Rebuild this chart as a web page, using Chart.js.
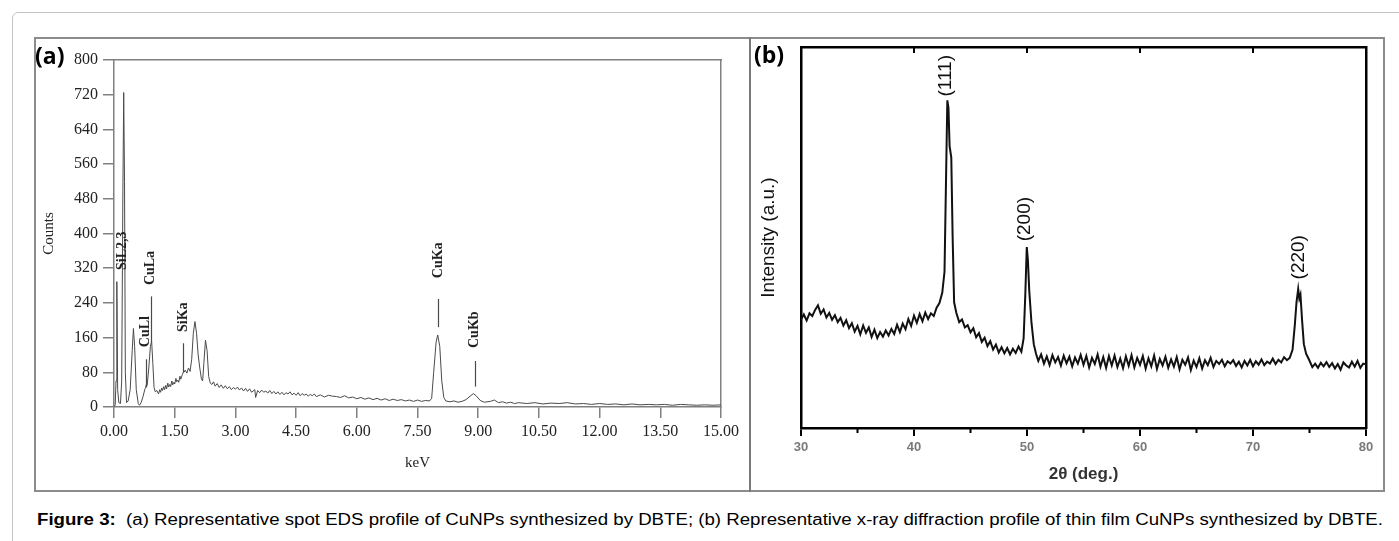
<!DOCTYPE html>
<html>
<head>
<meta charset="utf-8">
<script src="https://cdn.jsdelivr.net/npm/chart.js@4.4.1/dist/chart.umd.min.js"></script>
<style>
html,body{margin:0;padding:0;background:#fff;width:1399px;height:541px;overflow:hidden;position:relative}
#outer{position:absolute;left:12px;top:12px;width:1420px;height:560px;border:1px solid #c4c4c4;border-top-left-radius:6px;box-sizing:border-box}
#frame{position:absolute;left:34px;top:37px;width:1351px;height:455px;border:2px solid #8c8c8c;box-sizing:border-box}
#divider{position:absolute;left:749px;top:37px;width:2px;height:455px;background:#7a7a7a}
#cA{position:absolute;left:34px;top:37px}
#cB{position:absolute;left:751px;top:37px}
.plabel{position:absolute;font-family:'Open Sans';font-weight:700;font-size:23px;color:#000;line-height:1}
#caption{position:absolute;left:37px;top:511px;font-family:'Liberation Sans';font-size:16px;white-space:nowrap;transform-origin:0 0;color:#000;line-height:18px}
</style>
</head>
<body>
<div id="outer"></div>
<div id="frame"></div>
<div id="divider"></div>
<canvas id="cA" width="716" height="454"></canvas>
<canvas id="cB" width="633" height="454"></canvas>
<div class="plabel" style="left:35px;top:44px">(a)</div>
<div class="plabel" style="left:754px;top:43px">(b)</div>
<div id="caption"><b>Figure 3:</b>&nbsp; (a) Representative spot EDS profile of CuNPs synthesized by DBTE; (b) Representative x-ray diffraction profile of thin film CuNPs synthesized by DBTE.</div>
<script>
// ---------- Panel (a): EDS spectrum ----------
const edsKeV = [0.00,0.03,0.05,0.07,0.09,0.12,0.16,0.19,0.22,0.24,0.26,0.28,0.31,0.35,0.40,0.45,0.48,0.51,0.55,0.60,0.63,0.67,0.72,0.76,0.78,0.80,0.82,0.86,0.90,0.93,0.96,0.99,1.02,1.06,1.10,1.13,1.15,1.18,1.20,1.23,1.25,1.28,1.30,1.33,1.35,1.38,1.40,1.43,1.45,1.48,1.50,1.53,1.55,1.58,1.60,1.63,1.65,1.69,1.71,1.73,1.76,1.80,1.84,1.88,1.92,1.96,2.00,2.04,2.08,2.12,2.16,2.19,2.22,2.26,2.30,2.34,2.38,2.42,2.46,2.50,2.55,2.60,2.65,2.70,2.75,2.80,2.85,2.90,2.95,3.00,3.05,3.10,3.15,3.20,3.25,3.30,3.35,3.40,3.48,3.50,3.55,3.60,3.65,3.70,3.75,3.80,3.85,3.90,3.95,4.00,4.05,4.10,4.15,4.20,4.25,4.30,4.35,4.40,4.45,4.50,4.55,4.60,4.65,4.70,4.75,4.80,4.85,4.90,4.95,5.00,5.10,5.20,5.30,5.40,5.50,5.60,5.70,5.80,5.90,6.00,6.10,6.20,6.30,6.40,6.50,6.60,6.70,6.80,6.90,7.00,7.10,7.20,7.30,7.40,7.50,7.60,7.70,7.80,7.85,7.90,7.96,8.00,8.05,8.10,8.15,8.20,8.30,8.40,8.50,8.60,8.70,8.80,8.88,8.95,9.05,9.15,9.30,9.40,9.50,9.60,9.70,9.80,9.90,10.00,10.20,10.40,10.60,10.80,11.00,11.20,11.40,11.60,11.80,12.00,12.20,12.40,12.60,12.80,13.00,13.20,13.40,13.60,13.80,14.00,14.20,14.40,14.60,14.80,15.00];
const edsCounts = [0,5,60,289,40,10,8,60,500,725,520,80,10,14,40,130,181,140,40,8,4,10,25,40,45,52,50,90,140,152,100,45,35,38,30,40,34,44,38,47,40,50,42,55,46,52,47,60,51,57,53,66,58,62,57,71,64,75,80,80,85,78,90,82,110,170,197,170,120,90,65,60,100,154,130,70,55,52,58,48,54,45,51,43,49,42,47,40,45,41,46,39,44,37,43,36,42,34,40,22,38,33,39,34,37,32,38,31,36,30,35,29,34,28,33,30,35,28,32,27,33,26,31,27,30,25,29,26,30,24,28,23,27,25,24,22,26,21,23,19,22,18,21,17,20,16,19,15,18,15,17,14,16,13,16,13,15,14,20,80,150,166,140,60,22,14,12,14,11,13,17,25,31,26,15,11,13,16,10,12,9,11,8,10,8,10,7,9,8,10,7,8,6,8,6,7,5,7,5,6,5,6,4,6,5,4,5,4,5];
const edsTickKeV = [0,1.5,3,4.5,6,7.5,9,10.5,12,13.5,15];
const edsTickCounts = [0,80,160,240,320,400,480,560,640,720,800];
const edsPeakNames = ['SiL2,3','CuLl','CuLa','SiKa','CuKa','CuKb'];
const edsPeakKeV = [0.21,0.78,0.91,1.71,8.02,8.91];
const edsLabelBase = [316,138,281,173,297,136];
const edsMarkerKeV = [0.78,0.92,1.71,8.00,8.91];
const edsMarkerLow = [45,150,80,184,47];
const edsMarkerHigh = [110,255,147,249,106];

// ---------- Panel (b): XRD pattern ----------
const xrdTheta = [30.00,30.25,30.50,30.75,31.00,31.25,31.50,31.75,32.00,32.25,32.50,32.75,33.00,33.25,33.50,33.75,34.00,34.25,34.50,34.75,35.00,35.25,35.50,35.75,36.00,36.25,36.50,36.75,37.00,37.25,37.50,37.75,38.00,38.25,38.50,38.75,39.00,39.25,39.50,39.75,40.00,40.25,40.50,40.75,41.00,41.25,41.50,41.75,42.00,42.25,42.50,42.70,42.85,42.95,43.05,43.15,43.30,43.42,43.55,43.75,44.00,44.25,44.50,44.75,45.00,45.25,45.50,45.75,46.00,46.25,46.50,46.75,47.00,47.25,47.50,47.75,48.00,48.25,48.50,48.75,49.00,49.25,49.50,49.70,49.85,49.98,50.08,50.20,50.40,50.60,50.80,51.00,51.25,51.50,51.75,52.00,52.25,52.50,52.75,53.00,53.25,53.50,53.75,54.00,54.25,54.50,54.75,55.00,55.25,55.50,55.75,56.00,56.25,56.50,56.75,57.00,57.25,57.50,57.75,58.00,58.25,58.50,58.75,59.00,59.25,59.50,59.75,60.00,60.25,60.50,60.75,61.00,61.25,61.50,61.75,62.00,62.25,62.50,62.75,63.00,63.25,63.50,63.75,64.00,64.25,64.50,64.75,65.00,65.25,65.50,65.75,66.00,66.25,66.50,66.75,67.00,67.25,67.50,67.75,68.00,68.25,68.50,68.75,69.00,69.25,69.50,69.75,70.00,70.25,70.50,70.75,71.00,71.25,71.50,71.75,72.00,72.25,72.50,72.75,73.00,73.25,73.50,73.70,73.85,74.00,74.10,74.20,74.35,74.50,74.70,74.90,75.10,75.25,75.50,75.75,76.00,76.25,76.50,76.75,77.00,77.25,77.50,77.75,78.00,78.25,78.50,78.75,79.00,79.25,79.50,79.75,80.00];
const xrdIntensity = [28.5,29.8,28.2,30.1,29.4,31.0,32.2,30.0,31.1,29.0,30.2,28.4,29.6,27.8,28.9,26.9,28.3,26.2,27.5,25.3,26.8,24.6,26.9,25.0,26.4,23.9,25.8,23.6,25.2,24.0,25.6,24.3,26.0,24.7,27.1,25.2,27.4,25.9,28.6,26.8,29.5,27.6,29.9,28.0,30.3,28.6,30.1,29.4,31.6,32.8,35.5,41.0,68.0,86.0,84.0,74.0,71.0,50.0,33.0,30.2,27.8,28.5,26.4,27.0,25.1,26.2,23.8,24.9,22.6,23.7,21.5,22.8,20.6,21.9,19.8,21.2,19.6,21.0,19.3,20.8,19.7,21.4,20.0,23.5,35.0,47.5,44.0,36.0,27.5,22.0,19.5,17.6,19.3,16.9,18.8,16.5,19.1,17.2,18.6,16.4,19.0,17.0,18.7,16.2,18.5,16.9,19.2,16.6,18.9,15.9,18.4,16.8,19.3,16.1,18.6,15.8,18.9,16.4,19.0,16.0,18.2,15.7,18.8,16.3,19.1,15.9,18.4,16.6,18.9,15.6,18.3,16.2,19.0,15.5,18.1,16.4,18.7,15.8,18.0,16.1,18.6,15.4,17.9,16.6,18.5,15.2,17.7,16.0,18.3,15.6,17.8,16.5,18.4,16.0,17.6,16.8,17.9,16.2,17.5,16.9,17.8,16.3,17.4,15.9,17.6,16.4,17.9,16.2,17.5,16.6,18.0,16.5,17.4,16.9,18.2,16.8,17.9,17.2,18.6,17.8,18.4,20.5,27.0,33.0,36.5,34.0,35.0,28.0,22.0,19.5,18.3,17.0,16.0,16.9,15.8,17.1,16.2,17.3,16.0,17.0,15.6,16.8,15.3,17.2,16.4,15.9,17.4,16.1,17.6,15.8,16.9,16.7];
const xrdTicks = [30,40,50,60,70,80];
const xrdPeakNames = ['(111)','(200)','(220)'];
const xrdPeakTheta = [42.8,49.8,74.05];
const xrdLabelBase = [87,49,39];

// ---------- plugins ----------
const edsLabels = {
  id: 'edsLabels',
  afterDatasetsDraw(chart) {
    const {ctx, scales: {x, y}} = chart;
    ctx.save();
    ctx.strokeStyle = '#4a4a4a';
    ctx.lineWidth = 1.2;
    edsMarkerKeV.forEach((k, i) => {
      const px = Math.round(x.getPixelForValue(k)) + 0.5;
      ctx.beginPath();
      ctx.moveTo(px, y.getPixelForValue(edsMarkerLow[i]));
      ctx.lineTo(px, y.getPixelForValue(edsMarkerHigh[i]));
      ctx.stroke();
    });
    ctx.fillStyle = '#222';
    ctx.font = 'bold 14px "Liberation Serif"';
    ctx.textAlign = 'left';
    ctx.textBaseline = 'middle';
    edsPeakNames.forEach((n, i) => {
      ctx.save();
      ctx.translate(x.getPixelForValue(edsPeakKeV[i]), y.getPixelForValue(edsLabelBase[i]));
      ctx.rotate(-Math.PI / 2);
      ctx.fillText(n, 0, 0);
      ctx.restore();
    });
    ctx.restore();
  }
};

const xrdDecor = {
  id: 'xrdDecor',
  afterDraw(chart) {
    const {ctx, chartArea: a, scales: {x, y}} = chart;
    ctx.save();
    ctx.strokeStyle = '#000';
    ctx.lineWidth = 2;
    const t = x.ticks.map(k => k.value);
    const seg = (x1, y1, x2, y2) => { ctx.beginPath(); ctx.moveTo(x1, y1); ctx.lineTo(x2, y2); ctx.stroke(); };
    t.forEach(v => {
      if (v <= x.min || v >= x.max) return;
      const px = x.getPixelForValue(v);
      seg(px, a.top, px, a.top + 6);
    });
    for (let i = 0; i < t.length - 1; i++) {
      const px = x.getPixelForValue((t[i] + t[i + 1]) / 2);
      seg(px, a.bottom, px, a.bottom + 5);
    }
    ctx.fillStyle = '#111';
    ctx.font = '19px "Liberation Sans"';
    ctx.textAlign = 'left';
    ctx.textBaseline = 'middle';
    xrdPeakNames.forEach((n, i) => {
      ctx.save();
      ctx.translate(x.getPixelForValue(xrdPeakTheta[i]), y.getPixelForValue(xrdLabelBase[i]));
      ctx.rotate(-Math.PI / 2);
      ctx.fillText(n, 0, 0);
      ctx.restore();
    });
    ctx.restore();
  }
};

// ---------- chart (a) ----------
const grayA = '#808080';
new Chart(document.getElementById('cA'), {
  type: 'scatter',
  data: {
    datasets: [{
      data: edsKeV.map((k, i) => ({x: k, y: edsCounts[i]})),
      showLine: true,
      borderColor: '#4a4a4a',
      borderWidth: 1,
      pointRadius: 0,
      tension: 0
    }]
  },
  options: {
    responsive: false,
    animation: false,
    events: [],
    layout: {padding: {left: 0, right: 29, top: 23, bottom: 0}},
    plugins: {legend: {display: false}, tooltip: {enabled: false}},
    scales: {
      x: {
        type: 'linear', position: 'bottom', min: 0, max: 15,
        afterBuildTicks: s => { s.ticks = edsTickKeV.map(v => ({value: v})); },
        afterFit: s => { s.height = 84; },
        ticks: {autoSkip: false, maxRotation: 0, padding: 4, color: '#222',
          font: {family: 'Liberation Serif', size: 16},
          callback: v => Number(v).toFixed(2)},
        grid: {drawOnChartArea: false, tickLength: 11, color: grayA, lineWidth: 1.5},
        border: {color: grayA, width: 1.5},
        title: {display: true, text: 'keV', color: '#222',
          font: {family: 'Liberation Serif', size: 15}, padding: {top: 0, bottom: 19}}
      },
      y: {
        type: 'linear', position: 'left', min: 0, max: 800,
        afterBuildTicks: s => { s.ticks = edsTickCounts.map(v => ({value: v})); },
        afterFit: s => { s.width = 80; },
        ticks: {autoSkip: false, padding: 5, color: '#222',
          font: {family: 'Liberation Serif', size: 16}},
        grid: {drawOnChartArea: false, tickLength: 11, color: grayA, lineWidth: 1.5},
        border: {color: grayA, width: 1.5},
        title: {display: true, text: 'Counts', color: '#222',
          font: {family: 'Liberation Serif', size: 15}, padding: {top: 6, bottom: 0}}
      },
      x2: {
        type: 'linear', position: 'top', min: 0, max: 15,
        afterFit: s => { s.height = 0; },
        ticks: {display: false},
        grid: {drawOnChartArea: false, drawTicks: false},
        border: {color: grayA, width: 1.5}
      },
      y2: {
        type: 'linear', position: 'right', min: 0, max: 800,
        afterFit: s => { s.width = 0; },
        ticks: {display: false},
        grid: {drawOnChartArea: false, drawTicks: false},
        border: {color: grayA, width: 1.5}
      }
    }
  },
  plugins: [edsLabels]
});

// ---------- chart (b) ----------
new Chart(document.getElementById('cB'), {
  type: 'scatter',
  data: {
    datasets: [{
      data: xrdTheta.map((t, i) => ({x: t, y: xrdIntensity[i]})),
      showLine: true,
      borderColor: '#111',
      borderWidth: 2,
      pointRadius: 0,
      tension: 0
    }]
  },
  options: {
    responsive: false,
    animation: false,
    events: [],
    layout: {padding: {left: 0, right: 18, top: 10, bottom: 0}},
    plugins: {legend: {display: false}, tooltip: {enabled: false}},
    scales: {
      x: {
        type: 'linear', position: 'bottom', min: 30, max: 80,
        afterBuildTicks: s => { s.ticks = xrdTicks.map(v => ({value: v})); },
        afterFit: s => { s.height = 63; },
        ticks: {autoSkip: false, maxRotation: 0, padding: 4, color: '#7a7a7a',
          font: {family: 'Liberation Sans', size: 13, weight: 'bold'}},
        grid: {drawOnChartArea: false, tickLength: 8, color: '#000', lineWidth: 2},
        border: {color: '#000', width: 2.5},
        title: {display: true, text: '2θ (deg.)', color: '#333',
          font: {family: 'Liberation Sans', size: 17, weight: 'bold'}, padding: {top: 0, bottom: 6}}
      },
      y: {
        type: 'linear', position: 'left', min: 0, max: 100,
        afterFit: s => { s.width = 50; },
        ticks: {display: false},
        grid: {drawOnChartArea: false, drawTicks: false},
        border: {color: '#000', width: 2.5},
        title: {display: true, text: 'Intensity (a.u.)', color: '#111',
          font: {family: 'Liberation Sans', size: 19}, padding: {top: 6, bottom: 0}}
      },
      x2: {
        type: 'linear', position: 'top', min: 30, max: 80,
        afterFit: s => { s.height = 0; },
        ticks: {display: false},
        grid: {drawOnChartArea: false, drawTicks: false},
        border: {color: '#000', width: 2.5}
      },
      y2: {
        type: 'linear', position: 'right', min: 0, max: 100,
        afterFit: s => { s.width = 0; },
        ticks: {display: false},
        grid: {drawOnChartArea: false, drawTicks: false},
        border: {color: '#000', width: 2.5}
      }
    }
  },
  plugins: [xrdDecor]
});

// caption width fit
function fitCaption() {
  const el = document.getElementById('caption');
  el.style.transform = 'none';
  const w = el.getBoundingClientRect().width;
  if (w > 0) el.style.transform = 'scaleX(' + (1346 / w) + ')';
}
fitCaption();
if (document.fonts && document.fonts.ready) document.fonts.ready.then(fitCaption);
</script>
</body>
</html>
